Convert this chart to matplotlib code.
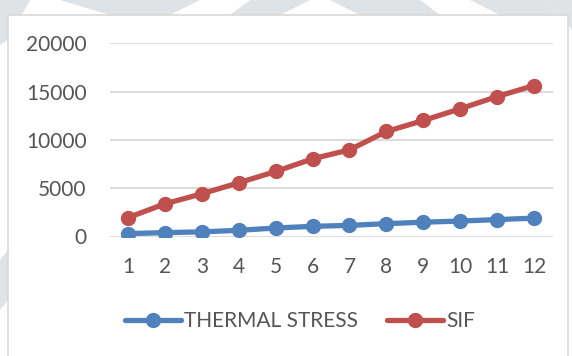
import matplotlib
matplotlib.use("Agg")
import matplotlib.pyplot as plt
from matplotlib.patches import Rectangle, Polygon

# Data
categories = [1, 2, 3, 4, 5, 6, 7, 8, 9, 10, 11, 12]
thermal_stress = [300, 400, 480, 640, 880, 1050, 1150, 1330, 1480, 1600, 1750, 1900]
sif = [1950, 3380, 4420, 5560, 6730, 8040, 8970, 10870, 12010, 13220, 14490, 15630]
y_ticks = [0, 5000, 10000, 15000, 20000]
series_names = ["THERMAL STRESS", "SIF"]

BLUE = "#4f81bd"
RED = "#c0504d"
TEXT = "#555555"
GRID = "#d9d9d9"
SHADE = "#dde3e7"

plt.rcParams["font.family"] = ["Lato", "DejaVu Sans"]

W, H = 572, 356
fig = plt.figure(figsize=(W / 100, H / 100), dpi=100)
fig.patch.set_facecolor("white")

def fx(px):
    return px / W

def fy(py):
    return 1 - py / H

# faint background shapes behind the chart frame
shapes = [
    [(0, 0), (30, 0), (8, 40), (0, 45)],
    [(60, 0), (200, 0), (170, 15), (110, 15)],
    [(250, 0), (310, 0), (280, 15), (230, 15)],
    [(330, 0), (420, 0), (440, 15), (360, 15)],
    [(470, 0), (540, 0), (560, 15), (500, 15)],
    [(540, 0), (572, 0), (572, 30), (560, 15)],
    [(0, 260), (8, 250), (8, 300), (0, 310)],
]
for pts in shapes:
    fig.patches.append(Polygon([(fx(x), fy(y)) for x, y in pts], closed=True,
                               transform=fig.transFigure, facecolor=SHADE,
                               edgecolor="none", zorder=0))

# chart frame
fig.patches.append(Rectangle((fx(8), fy(400)), fx(560), 385 / H,
                             transform=fig.transFigure, facecolor="white",
                             edgecolor=GRID, linewidth=1.2, zorder=1))

left, right, top, bottom = 109.5, 552.5, 43.3, 236.5
ax = fig.add_axes([fx(left), fy(bottom), (right - left) / W, (bottom - top) / H])
ax.set_zorder(2)
ax.patch.set_alpha(0)

line_kw = dict(linewidth=3.8, marker="o", markersize=10, solid_capstyle="round")
ax.plot(categories, thermal_stress, color=BLUE, label=series_names[0], zorder=3, **line_kw)
ax.plot(categories, sif, color=RED, label=series_names[1], zorder=4, **line_kw)

ax.set_xlim(0.5, 12.5)
ax.set_ylim(0, 20000)
ax.set_yticks(y_ticks)
ax.set_xticks(categories)
ax.set_xticklabels([str(c) for c in categories])
ax.yaxis.grid(True, color=GRID, linewidth=1.3)
ax.set_axisbelow(True)
for s in ax.spines.values():
    s.set_visible(False)
ax.tick_params(axis="both", length=0, colors=TEXT, labelsize=15)
ax.tick_params(axis="y", pad=16.5)
ax.tick_params(axis="x", pad=14.5)

leg = fig.legend(loc="center", bbox_to_anchor=(fx(300), fy(321)), ncol=2,
                 frameon=False, fontsize=15, handlelength=2.7, handletextpad=0.15,
                 columnspacing=1.4, labelcolor=TEXT)
for h in leg.legend_handles:
    h.set_markersize(10)

fig.savefig("out.png", dpi=100, facecolor=fig.get_facecolor())
